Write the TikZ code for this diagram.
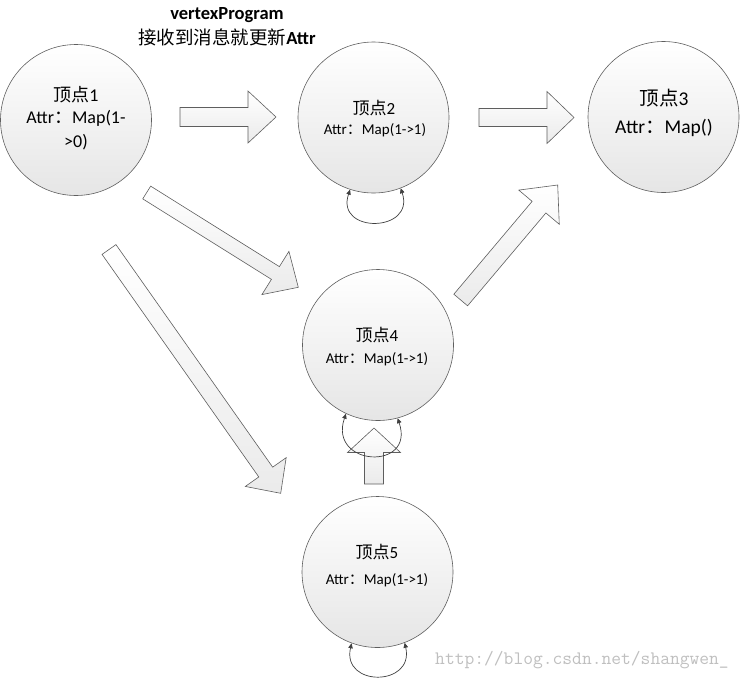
\documentclass[tikz,border=0pt]{standalone}
\usepackage{fontspec}
\setmainfont{Carlito}
\newfontfamily\cjk{Noto Sans CJK SC}
\usetikzlibrary{calc,arrows.meta}
\definecolor{edgegray}{HTML}{5E5E5E}
\definecolor{loopgray}{HTML}{404040}
\tikzset{
  vtx/.style={circle, draw=edgegray, line width=0.6pt, minimum size=151pt, inner sep=0pt,
    top color=white, bottom color=black!10},
  barrow/.style={draw=edgegray, line width=0.6pt, line join=miter, top color=white, bottom color=black!8},
  selfloop/.style={draw=loopgray, line width=0.7pt,
    {Triangle[length=5pt,width=4.5pt]}-{Triangle[length=5pt,width=4.5pt]}},
  big/.style={font=\fontsize{18}{22}\selectfont, inner sep=0pt},
  mid/.style={font=\fontsize{17}{20}\selectfont, inner sep=0pt},
  small/.style={font=\fontsize{15}{18}\selectfont, inner sep=0pt},
}
\newcommand{\blockarrow}[5]{% tail, tip, shaft half width, head half width, head length
  \coordinate (bah) at ($(#2)!#5!(#1)$);
  \draw[barrow] ($(#1)!#3!90:(#2)$) -- ($(bah)!#3!90:(#2)$) -- ($(bah)!#4!90:(#2)$) -- (#2)
    -- ($(bah)!#4!-90:(#2)$) -- ($(bah)!#3!-90:(#2)$) -- ($(#1)!#3!-90:(#2)$) -- cycle;
}
\begin{document}
\begin{tikzpicture}[x=1pt,y=-1pt]
\useasboundingbox (0,0) rectangle (743,678);
% vertices
\node[vtx] (n1) at (76,120) {};
\node[vtx] (n2) at (373.5,117.5) {};
\node[vtx] (n3) at (663.5,117) {};
\node[vtx] (n4) at (378,345) {};
\node[vtx] (n5) at (377.5,572) {};
% title
\node[font=\bfseries\fontsize{18.5}{22}\selectfont, inner sep=0pt] (title1) at (227,15) {vertexProgram};
\node[font=\fontsize{18.5}{22}\selectfont, inner sep=0pt] (title2) at (227,37) {{\cjk 接收到消息就更新}\textbf{Attr}};
% texts
\node[big] (t1a) at (76,95) {{\cjk 顶点}1};
\node[big] (t1b) at (76,118) {Attr{\cjk ：}Map(1-};
\node[big] (t1c) at (76,142) {>0)};
\node[mid] (t2a) at (374,108) {{\cjk 顶点}2};
\node[small] (t2b) at (375,130) {Attr{\cjk ：}Map(1->1)};
\node[font=\fontsize{19.5}{23}\selectfont, inner sep=0pt] (t3a) at (664,98) {{\cjk 顶点}3};
\node[font=\fontsize{19.5}{23}\selectfont, inner sep=0pt] (t3b) at (664,128) {Attr{\cjk ：}Map()};
\node[mid] (t4a) at (377,335) {{\cjk 顶点}4};
\node[small] (t4b) at (377,359) {Attr{\cjk ：}Map(1->1)};
\node[mid] (t5a) at (377,552) {{\cjk 顶点}5};
\node[small] (t5b) at (377,580) {Attr{\cjk ：}Map(1->1)};
% block arrow end points
\coordinate (a12t) at (180,117);   \coordinate (a12h) at (276,117);
\coordinate (a23t) at (479,117.5); \coordinate (a23h) at (574,117.5);
\coordinate (a14t) at (146.7,192.5); \coordinate (a14h) at (298.3,287.3);
\coordinate (a43t) at (460.7,300); \coordinate (a43h) at (557.7,185);
\coordinate (a15t) at (109,249.5); \coordinate (a15h) at (280.7,493.3);
\coordinate (a54t) at (374,484);   \coordinate (a54h) at (374,428);
\blockarrow{a12t}{a12h}{9.5pt}{26pt}{28pt}
\blockarrow{a23t}{a23h}{9pt}{26pt}{27pt}
\blockarrow{a14t}{a14h}{7.5pt}{25.5pt}{27pt}
\blockarrow{a43t}{a43h}{9pt}{26.5pt}{29pt}
\blockarrow{a15t}{a15h}{8.5pt}{25pt}{26pt}
\blockarrow{a54t}{a54h}{9.5pt}{26.5pt}{24.5pt}
% self loops
\draw[selfloop] (n2.252.7) .. controls +(-15,44.5) and +(15,44.5) .. (n2.291.4);
\draw[selfloop] (n4.245.6) .. controls +(-18,53) and +(18,53) .. (n4.285.5);
\draw[selfloop] (n5.250.9) .. controls +(-10,44) and +(10,44) .. (n5.291.5);
% watermark
\node[font=\ttfamily\fontsize{19}{22}\selectfont, text=black!25, inner sep=0pt] (wm) at (582,660) {http://blog.csdn.net/shangwen\_};
\end{tikzpicture}
\end{document}
